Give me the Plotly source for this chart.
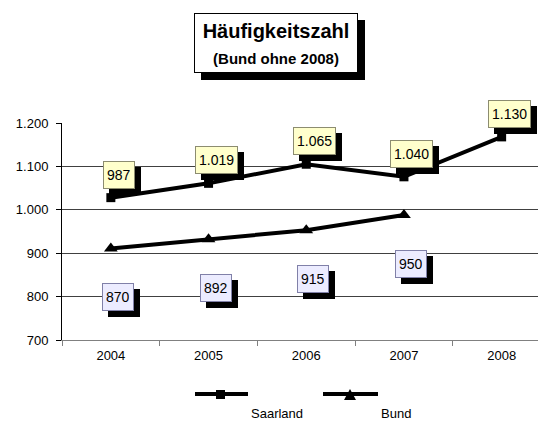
import plotly.graph_objects as go

years = ["2004", "2005", "2006", "2007", "2008"]
saarland = [1028, 1061, 1105, 1076, 1168]
saarland_labels = ["987", "1.019", "1.065", "1.040", "1.130"]
bund_years = ["2004", "2005", "2006", "2007"]
bund = [911, 932, 953, 988]
bund_labels = ["870", "892", "915", "950"]

# the page has an 8px body margin, so the figure is drawn 8px in and down
OFF = 8
W, H = 546 - OFF, 421 - OFF
PLOT_L, PLOT_T, PLOT_B = 62, 123, 340  # plot area in page pixels
L, R, T, B = PLOT_L - OFF, 0, PLOT_T - OFF, H - (PLOT_B - OFF)
FONT = "Liberation Sans, Arial, sans-serif"


def px(x):
    return (x - PLOT_L) / (546 - PLOT_L)


def py(y):
    return (PLOT_B - y) / (PLOT_B - PLOT_T)


fig = go.Figure()
fig.add_trace(
    go.Scatter(
        x=years, y=saarland, mode="lines+markers", name="Saarland",
        line=dict(color="black", width=4),
        marker=dict(symbol="square", size=9, color="black"),
    )
)
fig.add_trace(
    go.Scatter(
        x=bund_years, y=bund, mode="lines+markers", name="Bund",
        line=dict(color="black", width=4),
        marker=dict(symbol="triangle-up", size=12, color="black"),
    )
)


def label(i, y, text, fill, edge, xs, ys):
    # shadow first, then the box
    fig.add_annotation(
        x=i, y=y, text=text, showarrow=False, xshift=xs + 6, yshift=ys - 6,
        font=dict(family=FONT, size=14, color="black"),
        bgcolor="black", bordercolor="black", borderwidth=1, borderpad=3, height=20,
    )
    fig.add_annotation(
        x=i, y=y, text=text, showarrow=False, xshift=xs, yshift=ys,
        font=dict(family=FONT, size=14, color="black"),
        bgcolor=fill, bordercolor=edge, borderwidth=1, borderpad=3, height=20,
    )


for i, (y, t) in enumerate(zip(saarland, saarland_labels)):
    label(i, y, t, "#FFFFCC", "#8C8C70", 8, 23)
for i, (y, t) in enumerate(zip(bund, bund_labels)):
    label(i, y, t, "#ECECFF", "#8080A8", 7, -49)

# title box with shadow
title = "<b>Häufigkeitszahl</b><br><b><span style='font-size:15px'>(Bund ohne 2008)</span></b>"
for dx, bg in [(7, "black"), (0, "white")]:
    fig.add_annotation(
        xref="paper", yref="paper", x=px(276 + dx), y=py(42.7 + dx), text=title,
        xanchor="center", yanchor="middle",
        showarrow=False, font=dict(family=FONT, size=20, color="black"),
        bgcolor=bg, bordercolor="black", borderwidth=1, borderpad=3,
        width=156, height=52,
    )

# legend drawn by hand (text sits below-right of the sample)
shapes = []
for x0, x1 in [(195, 248), (323, 378)]:
    shapes.append(dict(type="line", xref="paper", yref="paper",
                       x0=px(x0), x1=px(x1), y0=py(394), y1=py(394),
                       line=dict(color="black", width=4)))
shapes.append(dict(type="rect", xref="paper", yref="paper",
                   x0=px(216), x1=px(225), y0=py(390), y1=py(399),
                   fillcolor="black", line=dict(width=0)))
shapes.append(dict(type="path", xref="paper", yref="paper",
                   path=f"M {px(344)} {py(400)} L {px(356)} {py(400)} L {px(350)} {py(389)} Z",
                   fillcolor="black", line=dict(width=0)))
for xl, t in [(249, "Saarland"), (379, "Bund")]:
    fig.add_annotation(xref="paper", yref="paper", x=px(xl), y=py(413.5), text=t,
                       showarrow=False, xanchor="left", yanchor="middle",
                       font=dict(family=FONT, size=13, color="black"))

fig.update_layout(
    width=W, height=H,
    margin=dict(l=L, r=R, t=T, b=B),
    paper_bgcolor="white", plot_bgcolor="white",
    showlegend=False, separators=",.",
    font=dict(family=FONT, size=12, color="black"),
    shapes=shapes,
    xaxis=dict(
        type="category", range=[-0.5, 4.454], tickson="boundaries",
        ticks="outside", ticklen=5, tickcolor="#808080",
        showline=True, linecolor="#808080", linewidth=1, showgrid=False,
        tickfont=dict(family=FONT, size=13, color="black"),
        ticklabelstandoff=3,
    ),
    yaxis=dict(
        range=[700, 1200], dtick=100, tickformat=",d",
        ticks="outside", ticklen=5, tickcolor="black",
        showline=True, linecolor="black", linewidth=1,
        showgrid=True, gridcolor="#404040", gridwidth=1, zeroline=False,
        tickfont=dict(family=FONT, size=13, color="black"),
        ticklabelstandoff=5,
    ),
)

fig.write_html("out.html")
